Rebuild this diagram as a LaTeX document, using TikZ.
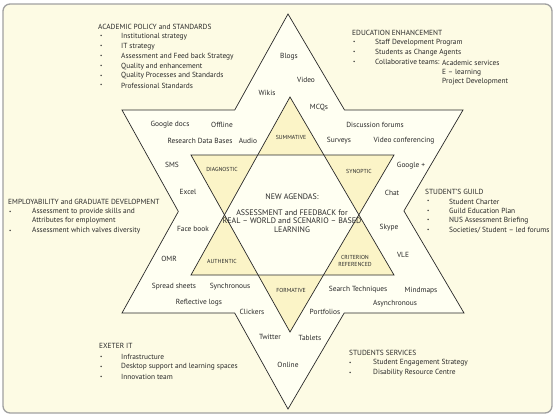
\documentclass[tikz,border=0pt]{standalone}
\usepackage{fontspec}
\setmainfont{PT Sans}
\usepackage{tikz}
\definecolor{pagecream}{RGB}{253,251,228}
\definecolor{starcream}{RGB}{255,255,242}
\definecolor{tipyellow}{RGB}{251,244,199}
\definecolor{framegray}{RGB}{160,160,160}
\definecolor{inkgray}{RGB}{40,40,40}
\tikzset{
  stframe/.style={draw=framegray, line width=1.3pt, fill=pagecream,
                  rounded corners=7pt},
  stedge/.style={draw=inkgray, line width=0.7pt, line join=miter},
  sttool/.style={font=\fontsize{7.4}{8.5}\selectfont, text=inkgray,
                 inner sep=0.5pt},
  sttag/.style={font=\fontsize{5.8}{7}\selectfont, text=inkgray,
                inner sep=0.5pt, align=center},
  sthead/.style={anchor=west, font=\fontsize{7.4}{8.5}\selectfont,
                 text=inkgray, inner sep=0pt},
  stitem/.style={sthead},
  stbullet/.style={sthead, font=\fontsize{5}{6}\selectfont},
  stagenda/.style={sttool, font=\fontsize{8}{8.6}\selectfont, align=center}
}

\begin{document}
\begin{tikzpicture}[x=1pt, y=-1pt]
  \useasboundingbox (0,0) rectangle (556,415);
  \path[stframe] (3,4) rectangle (552,413);
  % outer star
  \coordinate (ou) at (288,14);
  \coordinate (oul) at (122,313);
  \coordinate (our) at (464,313);
  \coordinate (od) at (288,409);
  \coordinate (odl) at (122,110);
  \coordinate (odr) at (463,110);
  \coordinate (o1) at (intersection of ou--oul and odl--odr);
  \coordinate (o2) at (intersection of ou--oul and odl--od);
  \coordinate (o3) at (intersection of oul--our and odl--od);
  \coordinate (o4) at (intersection of oul--our and odr--od);
  \coordinate (o5) at (intersection of ou--our and odr--od);
  \coordinate (o6) at (intersection of ou--our and odl--odr);
  \path[stedge, fill=starcream] (ou) -- (o1) -- (odl) -- (o2) -- (oul) -- (o3)
    -- (od) -- (o4) -- (our) -- (o5) -- (odr) -- (o6) -- cycle;
  % inner star
  \coordinate (iu) at (290,97);
  \coordinate (iul) at (191,275);
  \coordinate (iur) at (394,275);
  \coordinate (id) at (290,332);
  \coordinate (idl) at (191,155);
  \coordinate (idr) at (394,155);
  \fill[tipyellow] (iu) -- (iul) -- (iur) -- cycle;
  \fill[tipyellow] (idl) -- (idr) -- (id) -- cycle;
  \fill[starcream] (intersection of iu--iul and idl--idr)
    -- (intersection of iu--iul and idl--id)
    -- (intersection of iul--iur and idl--id)
    -- (intersection of iul--iur and idr--id)
    -- (intersection of iu--iur and idr--id)
    -- (intersection of iu--iur and idl--idr) -- cycle;
  \draw[stedge] (iu) -- (iul) -- (iur) -- cycle;
  \draw[stedge] (idl) -- (idr) -- (id) -- cycle;
  % tools in the outer points
  \foreach \x/\y/\id/\txt in {289/57/blogs/Blogs, 306/80/video/Video,
      267/93/wikis/Wikis, 319/108/mcqs/MCQs, 170/125/gdocs/Google docs,
      222/125/offline/Offline, 200/141/rdb/Research Data Bases,
      248/141/audio/Audio, 375/125/forums/Discussion forums,
      339/141/surveys/Surveys, 404/141/vconf/Video conferencing,
      172/165/sms/SMS, 188/192/excel/Excel, 193/229/fbook/Face book,
      169/259/omr/OMR, 411/166/gplus/Google +, 392/193/chat/Chat,
      389/228/skype/Skype, 403/255/vle/VLE, 174/287/sheets/Spread sheets,
      230/287/sync/Synchronous, 199/303/logs/Reflective logs,
      252/312/clickers/Clickers, 270/337/twitter/Twitter,
      288/365/online/Online, 310/338/tablets/Tablets,
      325/312/portfolios/Portfolios, 358/290/search/Search Techniques,
      421/291/mindmaps/Mindmaps, 395/304/async/Asynchronous} {
    \node[sttool] (\id) at (\x,\y) {\txt};
  }
  % assessment types in the inner points
  \node[sttag] (summative) at (291,137) {SUMMATIVE};
  \node[sttag] (formative) at (291,290) {FORMATIVE};
  \node[sttag] (diagnostic) at (222,169) {DIAGNOSTIC};
  \node[sttag] (synoptic) at (359,171) {SYNOPTIC};
  \node[sttag] (authentic) at (222,261) {AUTHENTIC};
  \node[sttag] (criterion) at (355,261) {CRITERION\\REFERENCED};
  \node[stagenda] (agenda) at (292,197) {NEW AGENDAS:};
  \node[stagenda] (agendatext) at (292,221)
    {ASSESSMENT and FEEDBACK for\\REAL -- WORLD and SCENARIO -- BASED\\LEARNING};
  % stakeholder lists
  \node[sthead] (acad) at (98,27) {ACADEMIC POLICY and STANDARDS};
  \foreach \i/\txt in {1/Institutional strategy, 2/IT strategy,
      3/Assessment and Feed back Strategy, 4/Quality and enhancement,
      5/Quality Processes and Standards, 6/Professional Standards} {
    \node[stbullet] (acadb\i) at (100,27+9.8*\i) {\textbullet};
    \node[stitem] (acad\i) at (121,27+9.8*\i) {\txt};
  }
  \node[sthead] (edu) at (352,33) {EDUCATION ENHANCEMENT};
  \foreach \i/\txt in {1/Staff Development Program,
      2/Students as Change Agents, 3/Collaborative teams:} {
    \node[stbullet] (edub\i) at (353,33+9.8*\i) {\textbullet};
    \node[stitem] (edu\i) at (375,33+9.8*\i) {\txt};
  }
  \node[stitem] (edu4) at (442,63) {Academic services};
  \node[stitem] (edu5) at (442,73) {E -- learning};
  \node[stitem] (edu6) at (442,82) {Project Development};
  \node[sthead] (emp) at (8,202) {EMPLOYABILITY and GRADUATE DEVELOPMENT};
  \node[stbullet] (empb1) at (9,212) {\textbullet};
  \node[stitem] (emp1) at (32,212) {Assessment to provide skills and};
  \node[stitem] (emp2) at (32,221) {Attributes for employment};
  \node[stbullet] (empb3) at (9,231) {\textbullet};
  \node[stitem] (emp3) at (32,231) {Assessment which valves diversity};
  \node[sthead] (guild) at (425,192) {STUDENT'S GUILD};
  \foreach \i/\txt in {1/Student Charter, 2/Guild Education Plan,
      3/NUS Assessment Briefing, 4/{Societies/ Student -- led forums}} {
    \node[stbullet] (guildb\i) at (427,192+9.6*\i) {\textbullet};
    \node[stitem] (guild\i) at (449,192+9.6*\i) {\txt};
  }
  \node[sthead] (exeter) at (99,346) {EXETER IT};
  \foreach \i/\txt in {1/Infrastructure,
      2/Desktop support and learning spaces, 3/Innovation team} {
    \node[stbullet] (exeterb\i) at (100,347+10*\i) {\textbullet};
    \node[stitem] (exeter\i) at (121,347+10*\i) {\txt};
  }
  \node[sthead] (serv) at (349,353) {STUDENTS SERVICES};
  \foreach \i/\txt in {1/Student Engagement Strategy,
      2/Disability Resource Centre} {
    \node[stbullet] (servb\i) at (349,353+10*\i) {\textbullet};
    \node[stitem] (serv\i) at (373,353+10*\i) {\txt};
  }
\end{tikzpicture}
\end{document}
